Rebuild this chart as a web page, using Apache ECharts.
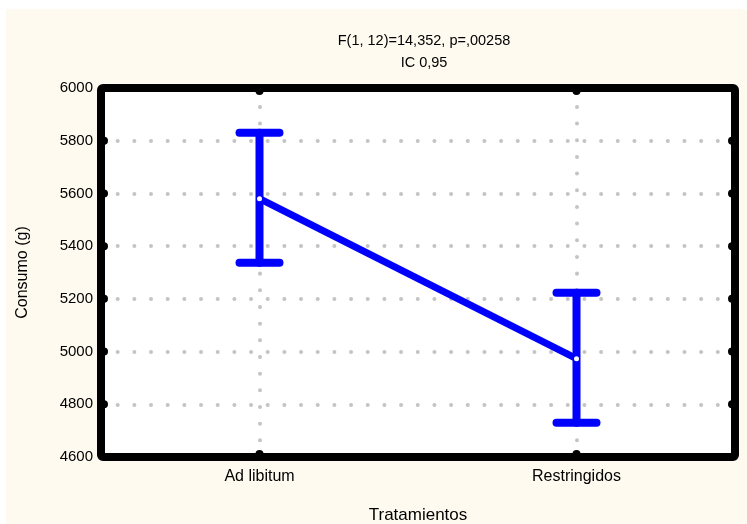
<!DOCTYPE html>
<html>
<head>
<meta charset="utf-8">
<script src="https://cdn.jsdelivr.net/npm/echarts@6/dist/echarts.min.js"></script>
<style>
html,body{margin:0;padding:0;background:#ffffff;}
#chart{width:747px;height:524px;}
</style>
</head>
<body>
<div id="chart"></div>
<script>
const categories = ['Ad libitum', 'Restringidos'];
const means = [5580, 4973];
const lower = [5337, 4730];
const upper = [5830, 5223];
const titleLines = ['F(1, 12)=14,352, p=,00258', 'IC 0,95'];
const yTickValues = [4600, 4800, 5000, 5200, 5400, 5600, 5800, 6000];
const yTicks = { min: 4600, max: 6000, interval: 200 };

const chart = echarts.init(document.getElementById('chart'), null, { renderer: 'canvas' });
const FONT = 'Liberation Sans, Arial, sans-serif';
const BLUE = '#0000ff';
const DOT = { color: '#c4c4c4', width: 4, type: [0.01, 16.66], cap: 'round' };

const errData = categories.map((c, i) => [i, lower[i], upper[i]]);

chart.setOption({
  backgroundColor: '#fffaf0',
  animation: false,
  graphic: [
    { type: 'rect', left: 0, top: 0, shape: { width: 747, height: 9 }, style: { fill: '#ffffff' }, z: -10 },
    { type: 'rect', left: 0, top: 0, shape: { width: 6, height: 524 }, style: { fill: '#ffffff' }, z: -10 }
  ],
  title: {
    text: titleLines.join('\n'),
    left: 419,
    top: 25,
    textAlign: 'center',
    textStyle: { fontFamily: FONT, fontSize: 14.5, fontWeight: 'normal', color: '#000', lineHeight: 22 }
  },
  grid: {
    left: 101, right: 12, top: 88, bottom: 67,
    containLabel: false,
    outerBoundsMode: 'none',
    show: true, backgroundColor: '#ffffff', borderWidth: 0
  },
  xAxis: {
    type: 'category',
    data: categories,
    boundaryGap: true,
    name: 'Tratamientos',
    nameLocation: 'middle',
    nameGap: 50,
    nameTextStyle: { fontFamily: FONT, fontSize: 17, color: '#000' },
    axisLine: { show: false },
    axisTick: { show: false },
    axisLabel: { fontFamily: FONT, fontSize: 16, color: '#000', margin: 12 },
    splitLine: { show: false }
  },
  yAxis: {
    type: 'value',
    min: yTicks.min, max: yTicks.max, interval: yTicks.interval,
    name: 'Consumo (g)',
    nameLocation: 'middle',
    nameGap: 70,
    nameTextStyle: { fontFamily: FONT, fontSize: 16, color: '#000' },
    axisLine: { show: false },
    axisTick: { show: false },
    axisLabel: { fontFamily: FONT, fontSize: 15, color: '#000', margin: 8, formatter: v => String(v) },
    splitLine: { show: true, lineStyle: DOT }
  },
  series: [
    {
      type: 'custom',
      z: 3,
      renderItem: function (params, api) {
        const x = api.value(0);
        const lo = api.coord([x, api.value(1)]);
        const hi = api.coord([x, api.value(2)]);
        const w = 20;
        const st = { stroke: BLUE, lineWidth: 8, lineCap: 'round', fill: null };
        return {
          type: 'group',
          children: [
            { type: 'line', shape: { x1: lo[0], y1: lo[1], x2: hi[0], y2: hi[1] }, style: st },
            { type: 'line', shape: { x1: lo[0] - w, y1: lo[1], x2: lo[0] + w, y2: lo[1] }, style: st },
            { type: 'line', shape: { x1: hi[0] - w, y1: hi[1], x2: hi[0] + w, y2: hi[1] }, style: st }
          ]
        };
      },
      encode: { x: 0, y: [1, 2] },
      data: errData
    },
    {
      type: 'line',
      z: 4,
      data: means,
      symbol: 'circle',
      symbolSize: 5,
      itemStyle: { color: '#ffffff', borderWidth: 0 },
      lineStyle: { color: BLUE, width: 7 },
      markLine: {
        silent: true,
        symbol: 'none',
        label: { show: false },
        lineStyle: DOT,
        z: 1,
        data: categories.map(c => ({ xAxis: c }))
      }
    },
    {
      type: 'custom',
      z: 5,
      silent: true,
      renderItem: function (params, api) {
        if (params.dataIndex !== 0) return;
        const cs = params.coordSys;
        const items = [{ type: 'rect', shape: { x: cs.x, y: cs.y, width: cs.width, height: cs.height, r: 2 },
          style: { fill: null, stroke: '#000', lineWidth: 8, lineJoin: 'round' } }];
        categories.forEach((c, i) => {
          const p = api.coord([i, yTicks.min]);
          const q = api.coord([i, yTicks.max]);
          items.push({ type: 'circle', shape: { cx: p[0], cy: p[1] - 3, r: 4 }, style: { fill: '#000' } });
          items.push({ type: 'circle', shape: { cx: q[0], cy: q[1] + 3, r: 4 }, style: { fill: '#000' } });
        });
        yTickValues.slice(1, -1).forEach(v => {
          const p = api.coord([0, v]);
          items.push({ type: 'circle', shape: { cx: cs.x + 3, cy: p[1], r: 4 }, style: { fill: '#000' } });
          items.push({ type: 'circle', shape: { cx: cs.x + cs.width - 3, cy: p[1], r: 4 }, style: { fill: '#000' } });
        });
        return { type: 'group', children: items };
      },
      data: [[0, yTicks.min]]
    }
  ]
});
</script>
</body>
</html>
